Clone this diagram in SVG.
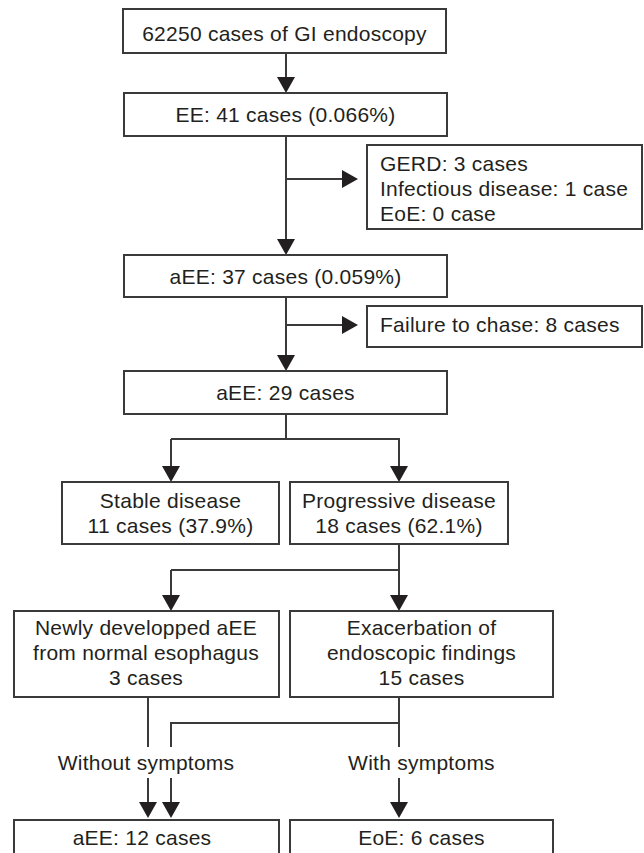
<svg xmlns="http://www.w3.org/2000/svg" width="644" height="853" viewBox="0 0 644 853">
<defs>
<marker id="ah" markerUnits="userSpaceOnUse" markerWidth="16" markerHeight="18" refX="8" refY="9" orient="auto" viewBox="0 0 16 18">
<path d="M0,0 L16,9 L0,18 z" fill="#231f20"/>
</marker>
<style>
.box{fill:#fff;stroke:#3a3a3a;stroke-width:2}
.t{font-family:"Liberation Sans",Arial,Helvetica,sans-serif;font-size:21px;letter-spacing:0.25px;fill:#231f20}
.c{text-anchor:middle}
.ln{fill:none;stroke:#3a3a3a;stroke-width:2}
.ar{fill:none;stroke:#3a3a3a;stroke-width:2;marker-end:url(#ah)}
</style>
</defs>
<rect width="644" height="853" fill="#fff"/>
<g id="connectors">
<path class="ar" d="M286,53 V85"/>
<path class="ar" d="M286,136 V247"/>
<path class="ar" d="M286,179 H350"/>
<path class="ar" d="M286,297 V363"/>
<path class="ar" d="M286,325 H350"/>
<path class="ln" d="M286,414 V439"/>
<path class="ar" d="M171,439 H399 V474"/>
<path class="ar" d="M171,439 V474"/>
<path class="ln" d="M399,544 V570"/>
<path class="ar" d="M171,570 H399 V603"/>
<path class="ar" d="M171,570 V603"/>
<path class="ln" d="M148,697 V747"/>
<path class="ln" d="M399,697 V747"/>
<path class="ln" d="M171,747 V723 H399"/>
<path class="ar" d="M148,778 V810"/>
<path class="ar" d="M171,778 V810"/>
<path class="ar" d="M399,778 V810"/>
<text class="t c" x="146" y="770">Without symptoms</text>
<text class="t c" x="421.5" y="770">With symptoms</text>
</g>
<g id="n1"><rect class="box" x="123" y="9" width="323" height="44"/><text class="t c" x="284.5" y="40.5">62250 cases of GI endoscopy</text></g>
<g id="n2"><rect class="box" x="124" y="93" width="323" height="43"/><text class="t c" x="285.5" y="122">EE: 41 cases (0.066%)</text></g>
<g id="n3"><rect class="box" x="367" y="145" width="275" height="84"/>
<text class="t" x="380" y="171">GERD: 3 cases</text>
<text class="t" x="380" y="196">Infectious disease: 1 case</text>
<text class="t" x="380" y="221">EoE: 0 case</text></g>
<g id="n4"><rect class="box" x="124" y="255" width="323" height="42"/><text class="t c" x="285.5" y="283.5">aEE: 37 cases (0.059%)</text></g>
<g id="n5"><rect class="box" x="367" y="306" width="275" height="41"/><text class="t" x="380" y="332">Failure to chase: 8 cases</text></g>
<g id="n6"><rect class="box" x="124" y="371" width="323" height="43"/><text class="t c" x="285.5" y="400">aEE: 29 cases</text></g>
<g id="n7"><rect class="box" x="62" y="482" width="217" height="62"/>
<text class="t c" x="170.5" y="508.3">Stable disease</text>
<text class="t c" x="170.5" y="533.3">11 cases (37.9%)</text></g>
<g id="n8"><rect class="box" x="290" y="482" width="218" height="62"/>
<text class="t c" x="399" y="508.3">Progressive disease</text>
<text class="t c" x="399" y="533.3">18 cases (62.1%)</text></g>
<g id="n9"><rect class="box" x="14" y="611" width="265" height="86"/>
<text class="t c" x="146" y="635">Newly developped aEE</text>
<text class="t c" x="146" y="660">from normal esophagus</text>
<text class="t c" x="146" y="685">3 cases</text></g>
<g id="n10"><rect class="box" x="290" y="611" width="263" height="86"/>
<text class="t c" x="421.5" y="635">Exacerbation of</text>
<text class="t c" x="421.5" y="660">endoscopic findings</text>
<text class="t c" x="421.5" y="685">15 cases</text></g>
<g id="n11"><rect class="box" x="14" y="820" width="265" height="45"/><text class="t c" x="142" y="845">aEE: 12 cases</text></g>
<g id="n12"><rect class="box" x="290" y="820" width="263" height="45"/><text class="t c" x="421.5" y="845">EoE: 6 cases</text></g>
</svg>
